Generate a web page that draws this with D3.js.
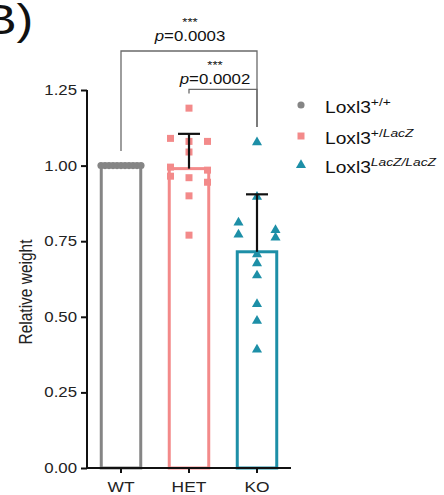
<!DOCTYPE html>
<html>
<head>
<meta charset="utf-8">
<script src="https://cdn.jsdelivr.net/npm/d3@7"></script>
<style>
  body { margin: 0; background: #fff; }
  svg { display: block; font-family: 'Liberation Sans', Arial, sans-serif; }
</style>
</head>
<body>
<div id="chart"></div>
<script>
// data
var groups = ['WT', 'HET', 'KO']
var wtValues = [1, 1, 1, 1, 1, 1, 1, 1, 1, 1, 1]
var hetValues = [1.19, 1.09, 1.08, 1.08, 1.045, 0.995, 0.985, 0.96, 0.945, 0.965, 0.9, 0.77]
var koValues = [1.08, 0.9, 0.815, 0.79, 0.775, 0.765, 0.71, 0.68, 0.64, 0.545, 0.49, 0.395]
var means = [1.0, 0.99, 0.715]
var sds = [0, 0.115, 0.19]
var yTicks = [0, 0.25, 0.5, 0.75, 1.0, 1.25]
var legendBase = ['Loxl3', 'Loxl3', 'Loxl3']
var legendSup = [['+/+'], ['+/', 'LacZ'], ['LacZ/LacZ']]
var comparisons = [
  { from: 'WT', to: 'KO', stars: '***', p: '0.0003' },
  { from: 'HET', to: 'KO', stars: '***', p: '0.0002' }
]

var colors = ['#858585', '#f38a8a', '#1d8fa7']
var symbols = [d3.symbolCircle, d3.symbolSquare, d3.symbolTriangle]
var symSize = [40, 49, 44]
var SX = 1.2 // the figure is stretched sideways

var width = 444
var height = 495

var svg = d3.select('#chart')
  .append('svg')
  .attr('width', width)
  .attr('height', height)

var yScale = d3.scaleLinear().domain([0, 1.25]).range([468, 90])
var xScale = d3.scaleBand()
  .domain(groups)
  .range([87, 291])
  .paddingInner(0.39)
  .paddingOuter(0.195)

function cx(g) { return xScale(g) + xScale.bandwidth() / 2 }

// stretched text helper
function txt(x, y, size) {
  return svg.append('text')
    .attr('transform', 'translate(' + x + ',' + y + ') scale(' + SX + ',1)')
    .style('font-size', size + 'px')
    .attr('fill', '#111')
}

// panel letter
txt(-17, 34, 42).text('B)')

// column scatter: points of about the same height share a row, spread sideways
function swarm(values, step, maxHalf) {
  var order = values.map((v, i) => i).sort((a, b) => values[b] - values[a])
  var rows = []
  order.forEach(function(i) {
    var py = yScale(values[i])
    var last = rows[rows.length - 1]
    if (last && py - last.y0 < 8) last.idx.push(i)
    else rows.push({ y0: py, idx: [i] })
  })
  var off = new Array(values.length)
  rows.forEach(function(r) {
    var n = r.idx.length
    r.idx.forEach(function(i, k) {
      var slot = n === 2 ? (k === 0 ? -1 : 1) : k - (n - 1) / 2
      off[i] = slot * step
    })
  })
  var m = d3.max(off, Math.abs)
  var s = m > maxHalf ? maxHalf / m : 1
  return off.map(o => o * s)
}

var allValues = [wtValues, hetValues, koValues]

// bars
svg.selectAll('.bar')
  .data(groups)
  .enter()
  .append('rect')
  .attr('class', 'bar')
  .attr('x', d => xScale(d) + 1)
  .attr('width', xScale.bandwidth() - 2)
  .attr('y', (d, i) => yScale(means[i]))
  .attr('height', (d, i) => yScale(0) - yScale(means[i]))
  .attr('fill', 'none')
  .attr('stroke', (d, i) => colors[i])
  .attr('stroke-width', 3)

// points
groups.forEach(function(g, gi) {
  var vals = allValues[gi]
  var offs = swarm(vals, 18.5, 20)
  svg.append('g')
    .selectAll('path')
    .data(vals)
    .enter()
    .append('path')
    .attr('d', d3.symbol().type(symbols[gi]).size(symSize[gi]))
    .attr('transform', (d, i) => 'translate(' + (cx(g) + offs[i]) + ',' + (yScale(d) + (gi === 2 ? 1 : 0)) + ')')
    .attr('fill', colors[gi])
})

// error bars (upper only)
groups.forEach(function(g, gi) {
  if (!sds[gi]) return
  var top = yScale(means[gi] + sds[gi])
  svg.append('line')
    .attr('x1', cx(g)).attr('x2', cx(g))
    .attr('y1', yScale(means[gi])).attr('y2', top)
    .attr('stroke', '#111').attr('stroke-width', 2.2)
  svg.append('line')
    .attr('x1', cx(g) - 11).attr('x2', cx(g) + 11)
    .attr('y1', top).attr('y2', top)
    .attr('stroke', '#111').attr('stroke-width', 2.2)
})

// axes
var yAxis = d3.axisLeft(yScale)
  .tickValues(yTicks)
  .tickFormat(d3.format('.2f'))
  .tickSize(6)

var yg = svg.append('g')
  .attr('class', 'axis y-axis')
  .attr('transform', 'translate(87,0)')
  .call(yAxis)

var xAxis = d3.axisBottom(xScale).tickSize(5)

var xg = svg.append('g')
  .attr('class', 'axis x-axis')
  .attr('transform', 'translate(0,468)')
  .call(xAxis)

svg.selectAll('.axis .domain').attr('stroke', '#111').attr('stroke-width', 2)
svg.selectAll('.axis line').attr('stroke', '#111').attr('stroke-width', 2)
xg.select('.domain').attr('d', 'M87,0H291')
yg.select('.domain').attr('d', 'M0,90V468')

yg.selectAll('text')
  .attr('x', null)
  .attr('transform', 'translate(-10,0) scale(' + SX + ',1)')
  .style('font-size', '14px')
  .style('font-family', "'Liberation Sans', Arial, sans-serif")
  .attr('fill', '#222')

xg.selectAll('text')
  .attr('y', null)
  .attr('dy', null)
  .attr('transform', 'translate(0,24) scale(' + SX + ',1)')
  .style('font-size', '14.5px')
  .style('font-family', "'Liberation Sans', Arial, sans-serif")
  .attr('fill', '#222')

// y label
svg.append('text')
  .attr('transform', 'translate(32,292) scale(' + SX + ',1) rotate(-90)')
  .attr('text-anchor', 'middle')
  .style('font-size', '15.5px')
  .attr('fill', '#222')
  .text('Relative weight')

// significance brackets
var groupTop = groups.map((g, i) => yScale(d3.max(allValues[i])) - 14.5)
var levels = [yScale(1.379), yScale(1.252)]
var labelShift = [1, -8]
var labelGap = [10, 5]
comparisons.forEach(function(c, ci) {
  var x1 = cx(c.from)
  var x2 = cx(c.to)
  var ly = levels[ci]
  var b1 = ci === 0 ? groupTop[groups.indexOf(c.from)] : ly + 4
  var b2 = groupTop[groups.indexOf(c.to)]
  svg.append('path')
    .attr('d', 'M' + x1 + ',' + b1 + 'V' + ly + 'H' + x2 + 'V' + b2)
    .attr('fill', 'none')
    .attr('stroke', '#6a6a6a')
    .attr('stroke-width', 1.3)
  var mx = (x1 + x2) / 2 + labelShift[ci]
  var base = ly - labelGap[ci]
  txt(mx, base, 14)
    .attr('text-anchor', 'middle')
    .call(t => {
      t.append('tspan').style('font-style', 'italic').text('p')
      t.append('tspan').text('=' + c.p)
    })
  txt(mx, base - 15, 11)
    .attr('text-anchor', 'middle')
    .text(c.stars)
})

// legend
var legendY = [105, 136, 165]
legendBase.forEach(function(b, i) {
  svg.append('path')
    .attr('d', d3.symbol().type(symbols[i]).size(symSize[i]))
    .attr('transform', 'translate(301,' + legendY[i] + ')')
    .attr('fill', colors[i])
  var t = txt(325, legendY[i] + 7.5, 16)
  t.append('tspan').text(b)
  legendSup[i].forEach(function(s) {
    t.append('tspan')
      .style('font-size', '11.5px')
      .style('font-style', /LacZ/.test(s) ? 'italic' : 'normal')
      .attr('baseline-shift', '55%')
      .text(s)
  })
})
</script>
</body>
</html>
